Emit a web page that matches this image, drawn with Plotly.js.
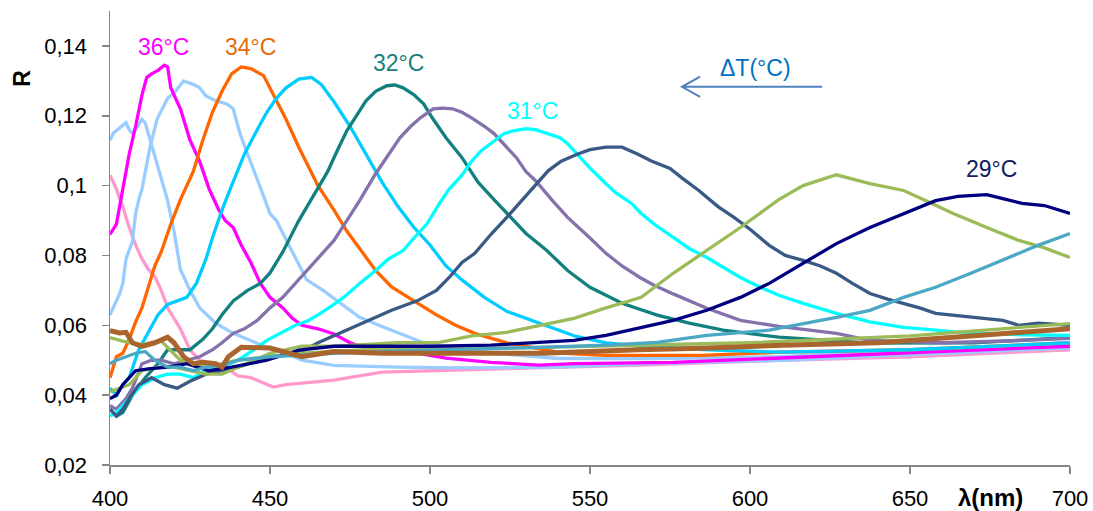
<!DOCTYPE html>
<html>
<head>
<meta charset="utf-8">
<script src="https://cdn.plot.ly/plotly-3.0.1.min.js"></script>
<style>html,body{margin:0;padding:0;background:#fff;}#chart{width:1093px;height:511px;}</style>
</head>
<body>
<div id="chart"></div>
<script>
// ---- data (wavelength nm, reflectance R) ----
const wlPink = [400,402,404,406,408,410,412,414,416,418,420,422,425,428,431,436,440,444,448,451,455,460,470,485,505,535,566,610,650,700];
const rPink  = [0.103,0.099,0.094,0.088,0.083,0.079,0.076,0.074,0.070,0.065,0.062,0.059,0.053,0.050,0.049,0.048,0.0455,0.045,0.0435,0.0423,0.043,0.0435,0.0443,0.0466,0.0471,0.0477,0.0486,0.050,0.051,0.053];

const wlLightBlueA = [400,401,403,405,406,407,408,410,411,412,413.6,415.6,418,420,422,425,428,433,438.5,444,449,455,460,470,490,510,540,570,610,660,700];
const rLightBlueA  = [0.113,0.115,0.1165,0.118,0.116,0.115,0.116,0.119,0.118,0.115,0.110,0.1034,0.0957,0.087,0.076,0.070,0.065,0.0606,0.0577,0.0557,0.0537,0.052,0.050,0.0485,0.048,0.0478,0.048,0.049,0.050,0.052,0.0535];

const wlLightBlueB = [400,401,403,404,405,407,408,409,410,412.5,414.7,418,420,423,426,428,430,433,436.5,438.5,440.6,443,446,448,450,452,457,461.5,466.6,472,478,484,490.6,498,506,520,540,570,610,650,700];
const rLightBlueB  = [0.063,0.065,0.069,0.072,0.079,0.084,0.092,0.096,0.099,0.111,0.119,0.125,0.1265,0.130,0.129,0.128,0.1257,0.1243,0.1234,0.122,0.115,0.109,0.102,0.097,0.092,0.090,0.081,0.073,0.070,0.0663,0.0623,0.060,0.0577,0.055,0.0537,0.052,0.0505,0.0505,0.051,0.053,0.0545];

const wlMagenta = [400,402,404,406,408,410,411.5,413,415,417,418,419,420,422,425,428,431,434,436,438.5,441,444,447,450,454,457,460,465,470,475,480,490,505,519,534,545,576,609,650,700];
const rMagenta  = [0.086,0.089,0.099,0.109,0.117,0.126,0.131,0.132,0.133,0.1345,0.134,0.128,0.126,0.122,0.113,0.107,0.099,0.093,0.090,0.088,0.083,0.078,0.072,0.068,0.065,0.062,0.060,0.059,0.0575,0.055,0.0535,0.053,0.0506,0.0494,0.0486,0.049,0.0494,0.0506,0.052,0.054];

const wlOrange = [400,402,404,406,408,410,412,414,416,419,422,426,429,432,435,438,441,444,448,451,455,459,465,470,474,478,483,488,495,502,508,514,524,534,542,555,585,610,650,700];
const rOrange  = [0.045,0.051,0.052,0.056,0.061,0.065,0.071,0.077,0.081,0.089,0.096,0.104,0.113,0.121,0.127,0.132,0.134,0.1335,0.1315,0.126,0.119,0.111,0.100,0.093,0.087,0.082,0.0757,0.071,0.067,0.063,0.060,0.0577,0.055,0.0534,0.052,0.0514,0.0514,0.0523,0.053,0.055];

const wlSkyBlue = [400,402,404,406,409,412,415,418,421,424,427,430,432,435,438,442,446,449,452,455,459,463,466,470,475,480,485,490,495,500,505,510,517,524,534,545,555,566,587,609,650,700];
const rSkyBlue  = [0.042,0.040,0.043,0.045,0.053,0.058,0.063,0.066,0.067,0.068,0.072,0.079,0.085,0.093,0.100,0.109,0.116,0.121,0.125,0.128,0.1305,0.131,0.129,0.124,0.117,0.109,0.101,0.094,0.088,0.083,0.077,0.073,0.068,0.064,0.0606,0.057,0.055,0.054,0.053,0.0523,0.053,0.055];

const wlTeal = [400,402,404,407,411,415,418,422,425,429,432,435,438.5,443,447,450,454,459,464,468,471,474,477,480,483,486.5,489,491.6,495,498,501,505,510,515,520,525,530,536.5,543,550,560,571,581,591.6,609,637.5,670,700];
const rTeal  = [0.036,0.034,0.035,0.040,0.045,0.049,0.053,0.053,0.053,0.056,0.059,0.063,0.067,0.070,0.072,0.075,0.081,0.090,0.098,0.104,0.110,0.1157,0.120,0.1243,0.127,0.1286,0.1288,0.128,0.126,0.1234,0.119,0.1137,0.108,0.101,0.096,0.091,0.0863,0.0814,0.0757,0.0709,0.0663,0.0629,0.0606,0.0586,0.0566,0.0549,0.055,0.0565];

const wlPurple = [400,402,405,407,410,413,416,420,424,428,432,435,438.5,442,446,450,454,458,462.5,466,470,474,478,483,487,490.6,494,497,501,504,507,510,513,517,520,524,527,530,533,538,543,550,555,560,565.6,570,576,586.5,597,609,627,637.5,660,680,700];
const rPurple  = [0.037,0.036,0.039,0.042,0.049,0.050,0.050,0.049,0.050,0.051,0.053,0.055,0.0577,0.059,0.0614,0.065,0.068,0.072,0.0766,0.080,0.0843,0.090,0.0957,0.1034,0.109,0.1137,0.117,0.1194,0.122,0.1222,0.122,0.121,0.1194,0.117,0.1149,0.111,0.108,0.104,0.1014,0.096,0.0909,0.085,0.0806,0.077,0.0737,0.0715,0.069,0.0649,0.0614,0.0597,0.0577,0.0557,0.055,0.0555,0.0563];

const wlCyan = [400,402,405,408,410,414,418,422,426,430,435,440,445,449,453,458,462,465,470,473,478,483,487,491.6,495,499,503,506,510,513,516,520,523,526,530,533,536.5,540.6,543,546,550,554,558,563,566,570,576,581,586.5,592,597,603,609,616.6,627,637.5,648,658,669,685,700];
const rCyan  = [0.034,0.035,0.038,0.041,0.043,0.045,0.046,0.046,0.045,0.047,0.048,0.050,0.053,0.0557,0.0577,0.060,0.0614,0.063,0.066,0.068,0.072,0.0757,0.079,0.0814,0.085,0.089,0.095,0.099,0.103,0.107,0.110,0.1129,0.1148,0.1157,0.1163,0.116,0.1149,0.1137,0.112,0.109,0.105,0.1014,0.098,0.0949,0.092,0.089,0.0851,0.082,0.0794,0.0765,0.0737,0.071,0.0686,0.0663,0.0634,0.061,0.0594,0.0586,0.0577,0.0573,0.0571];

const wlDarkSlate = [400,402,404,406,409,413,417,421,425,430,435,440,450,459,465,470,475,481,488,496,502,506,510,514,519,524,529,534,537,541,546,550,555,560,565,569,575,579,584,590,595,600,606,611,616.6,622,627,632,637.5,643,648,653,658,664,669,674,679,684,690,695,700];
const rDarkSlate  = [0.036,0.034,0.036,0.039,0.043,0.045,0.043,0.042,0.044,0.046,0.047,0.048,0.051,0.052,0.055,0.057,0.059,0.0614,0.0643,0.067,0.070,0.0737,0.078,0.0806,0.086,0.0909,0.096,0.1014,0.1043,0.107,0.109,0.1103,0.111,0.111,0.109,0.1071,0.1049,0.102,0.0986,0.094,0.0909,0.0875,0.0829,0.080,0.0786,0.077,0.0749,0.072,0.0691,0.0675,0.0663,0.065,0.0634,0.0628,0.0623,0.0618,0.0614,0.060,0.0606,0.0603,0.060];

const wlGreenFlat = [400,404,410,416,422,430,440,460,480,500,550,600,650,700];
const rGreenFlat  = [0.0565,0.0555,0.0545,0.0555,0.050,0.048,0.050,0.052,0.053,0.053,0.054,0.055,0.057,0.0605];

const wlOlive = [400,403,406,410,415,420,425,430,435,440,445,450,460,470,480,490,503,513,524,534,545,555,566,576,586.5,597,603,609,616.6,627,637.5,648,655,663.5,674,684,691.6,700];
const rOlive  = [0.041,0.042,0.043,0.047,0.048,0.048,0.047,0.046,0.046,0.048,0.050,0.052,0.054,0.054,0.0545,0.055,0.0551,0.057,0.058,0.060,0.062,0.065,0.068,0.0749,0.0814,0.088,0.092,0.096,0.100,0.1031,0.1006,0.0986,0.0957,0.092,0.088,0.0843,0.0823,0.0794];

const wlNavy = [400,402,404,406,408,412,418,424,431,438,449,459,470,485,501,519,534,545,555,566,576,586.5,597,606,616.6,627,637.5,648,658,665,674,679,685,692,700];
const rNavy  = [0.039,0.040,0.043,0.045,0.047,0.0475,0.048,0.049,0.047,0.048,0.050,0.0529,0.054,0.054,0.054,0.0543,0.055,0.0557,0.0571,0.0594,0.0614,0.0643,0.068,0.072,0.0777,0.0834,0.088,0.092,0.0957,0.0969,0.0974,0.0963,0.0949,0.0943,0.092];

const wlSteel = [400,402,405,408,411,414,418,422,426,430,435,440,450,460,470,485,503,534,555,571,586.5,606,627,637.5,648,658,669,679,690,700];
const rSteel  = [0.049,0.050,0.051,0.052,0.0525,0.050,0.048,0.048,0.047,0.048,0.0485,0.050,0.051,0.0515,0.052,0.0525,0.0529,0.0537,0.0543,0.0551,0.0571,0.0586,0.0623,0.0643,0.068,0.0709,0.0749,0.0786,0.0829,0.0863];

const wlBrown = [400,403,405,407,410,414,418,420,423,426,429,433,435,437,441,450,460,470,485,505,535,565,585,610,640,670,700];
const rBrown  = [0.0585,0.0578,0.058,0.055,0.054,0.055,0.0566,0.055,0.051,0.049,0.0494,0.049,0.048,0.051,0.0537,0.0535,0.051,0.0525,0.052,0.052,0.052,0.053,0.0534,0.0543,0.055,0.057,0.059];

// axis ticks
const xTickVals = [400,450,500,550,600,650,700];
const xTickText = ['400','450','500','550','600','650','700'];
const yTickVals = [0.02,0.04,0.06,0.08,0.10,0.12,0.14];
const yTickText = ['0,02','0,04','0,06','0,08','0,1','0,12','0,14'];

const series = [
  [wlPink, rPink, '#FF99CC', 3.3],
  [wlLightBlueA, rLightBlueA, '#99CCFF', 3.3],
  [wlLightBlueB, rLightBlueB, '#99CCFF', 3.3],
  [wlMagenta, rMagenta, '#FF00FF', 3.3],
  [wlOrange, rOrange, '#FF6600', 3.3],
  [wlSkyBlue, rSkyBlue, '#00CCFF', 3.3],
  [wlTeal, rTeal, '#138080', 3.3],
  [wlPurple, rPurple, '#8571AB', 3.3],
  [wlCyan, rCyan, '#00FFFF', 3.3],
  [wlDarkSlate, rDarkSlate, '#3A5A86', 3.3],
  [wlGreenFlat, rGreenFlat, '#9BBB59', 3.3],
  [wlOlive, rOlive, '#9BBB59', 3.3],
  [wlNavy, rNavy, '#000080', 3.3],
  [wlSteel, rSteel, '#4BA8C4', 3.3],
  [wlBrown, rBrown, '#A9652E', 5]
];

const traces = series.map(s => ({
  x: s[0], y: s[1], type: 'scatter', mode: 'lines',
  line: {color: s[2], width: s[3]}, hoverinfo: 'skip'
}));

const FONT = 'Liberation Sans, Arial, sans-serif';
const axisColor = '#868686';

const layout = {
  width: 1093, height: 511,
  margin: {l: 110, r: 23, t: 11, b: 46, pad: 0},
  paper_bgcolor: '#ffffff', plot_bgcolor: '#ffffff',
  showlegend: false,
  font: {family: FONT, color: '#000000', size: 22},
  xaxis: {
    range: [400, 700], tickvals: xTickVals, ticktext: xTickText,
    showgrid: false, zeroline: false, showline: true, linecolor: axisColor, linewidth: 1.5,
    ticks: 'outside', ticklen: 7, tickwidth: 1.5, tickcolor: axisColor,
    tickfont: {family: FONT, size: 22, color: '#000'}, ticklabelstandoff: 6
  },
  yaxis: {
    range: [0.02, 0.15], tickvals: yTickVals, ticktext: yTickText,
    showgrid: false, zeroline: false, showline: true, linecolor: axisColor, linewidth: 1.5,
    ticks: 'outside', ticklen: 7, tickwidth: 1.5, tickcolor: axisColor,
    tickfont: {family: FONT, size: 22, color: '#000'}, ticklabelstandoff: 10
  },
  annotations: [
    {text: '36°C', x: 416.6, y: 0.1397, xref: 'x', yref: 'y', xanchor: 'center', yanchor: 'middle', showarrow: false, font: {family: FONT, size: 23, color: '#FF00FF'}},
    {text: '34°C', x: 443.75, y: 0.1397, xref: 'x', yref: 'y', xanchor: 'center', yanchor: 'middle', showarrow: false, font: {family: FONT, size: 23, color: '#E46C0A'}},
    {text: '32°C', x: 490, y: 0.1351, xref: 'x', yref: 'y', xanchor: 'center', yanchor: 'middle', showarrow: false, font: {family: FONT, size: 23, color: '#17807C'}},
    {text: '31°C', x: 531.9, y: 0.1214, xref: 'x', yref: 'y', xanchor: 'center', yanchor: 'middle', showarrow: false, font: {family: FONT, size: 23, color: '#00FFFF'}},
    {text: '29°C', x: 675.6, y: 0.1049, xref: 'x', yref: 'y', xanchor: 'center', yanchor: 'middle', showarrow: false, font: {family: FONT, size: 23, color: '#0F2060'}},
    {text: 'ΔT(°C)', x: 601.6, y: 0.1337, xref: 'x', yref: 'y', xanchor: 'center', yanchor: 'middle', showarrow: false, font: {family: FONT, size: 23, color: '#0070C0'}},
    {text: '<b>R</b>', x: -0.0917, y: 0.1309, xref: 'paper', yref: 'y', xanchor: 'center', yanchor: 'middle', textangle: -90, showarrow: false, font: {family: FONT, size: 23, color: '#000'}},
    {text: '<b>λ(nm)</b>', x: 675.3, y: -0.0705, xref: 'x', yref: 'paper', xanchor: 'center', yanchor: 'middle', showarrow: false, font: {family: FONT, size: 24, color: '#000'}}
  ],
  shapes: [
    {type: 'path', xref: 'x', yref: 'y',
     path: 'M 578.75,0.1283 L 622.5,0.1283 M 584.4,0.1312 L 578.75,0.1283 L 584.4,0.1254',
     line: {color: '#4F81BD', width: 2}}
  ]
};

Plotly.newPlot('chart', traces, layout, {displayModeBar: false, staticPlot: true});
</script>
</body>
</html>
